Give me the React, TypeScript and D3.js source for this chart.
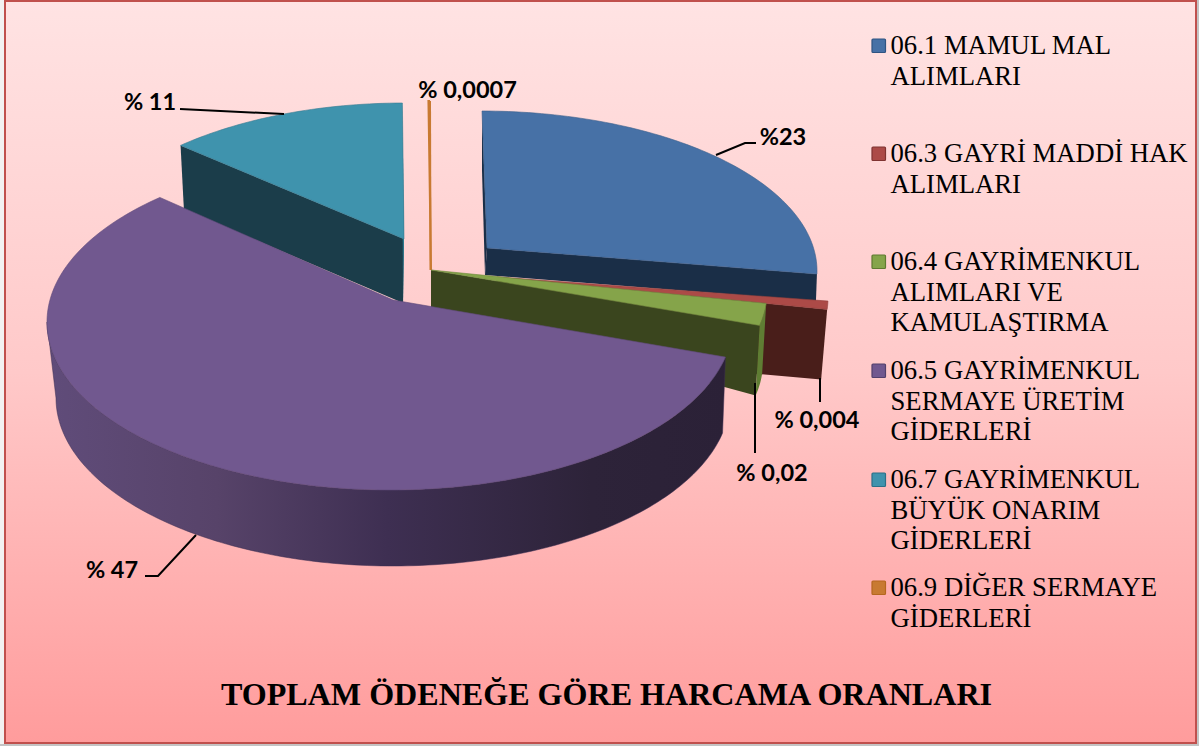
import React from "react";
import * as d3 from "d3";

const categories = ["06.1", "06.3", "06.4", "06.5", "06.7", "06.9"];
const shares = [25.28, 0.83, 2.22, 60.0, 11.64, 0.03];
const pieLabels = ["%23", "% 0,004", "% 0,02", "% 47", "% 11", "% 0,0007"];
const legendLines = [
  ["06.1 MAMUL MAL", "ALIMLARI"],
  ["06.3 GAYRİ MADDİ HAK", "ALIMLARI"],
  ["06.4 GAYRİMENKUL", "ALIMLARI VE", "KAMULAŞTIRMA"],
  ["06.5 GAYRİMENKUL", "SERMAYE ÜRETİM", "GİDERLERİ"],
  ["06.7 GAYRİMENKUL", "BÜYÜK ONARIM", "GİDERLERİ"],
  ["06.9 DİĞER SERMAYE", "GİDERLERİ"],
];
const title = "TOPLAM ÖDENEĞE GÖRE HARCAMA ORANLARI";

const topColors = ["#4771a6", "#ac4a47", "#85a44a", "#71588f", "#3f93ad", "#c87a32"];
const sideColors = ["#1a2e47", "#491e1a", "#3a451e", "#2c2238", "#1b3d4a", "#8a5420"];
const rimColors = ["#1a2e47", "#491e1a", "#5f7d33", "url(#purpleSide)", "#1b3d4a", "#8a5420"];
const legendStroke = ["#2f5482", "#7f3331", "#5f7a30", "#52406c", "#2b7088", "#b5671f"];

// Layout of each exploded slice: top ellipse, bottom ellipse, apex top/bottom
type G = { c: number[]; r: number[]; bc: number[]; br: number[]; a: number[]; ab: number[] };
const geom: G[] = [
  { c: [481, 271], r: [336, 160], bc: [480, 298], br: [336, 160], a: [487, 248], ab: [485, 275] },
  { c: [488, 298], r: [340, 160], bc: [482, 368], br: [340, 160], a: [497, 277], ab: [497, 351] },
  { c: [431, 292], r: [336, 160], bc: [431, 362], br: [332, 160], a: [431, 270], ab: [431, 307] },
  { c: [390, 322], r: [343, 168], bc: [393, 398], br: [337, 168], a: [393, 300], ab: [393, 376] },
  { c: [404, 267], r: [333, 164], bc: [404, 331], br: [328, 164], a: [404, 239], ab: [403, 303] },
  { c: [430, 261], r: [320, 160], bc: [430, 298], br: [320, 160], a: [431, 270], ab: [431, 270] },
];

const labelPos = [
  [783, 137], [817, 420], [772, 473], [112, 570], [150, 102], [467.5, 90],
];
const leaders = [
  [[716, 155], [745, 143], [756, 143]],
  [[820, 378], [820, 402]],
  [[755, 383], [755, 453]],
  [[196, 535], [158, 576], [145, 576]],
  [[284, 114], [180, 109]],
];

const legendY = [46, 154, 262, 371, 480, 588];

const line = d3.line();
const slices = d3.pie<number>().sort(null).startAngle(0.003).endAngle(2 * Math.PI - 0.003)(shares);

const pt = (c: number[], r: number[], t: number): [number, number] => [
  c[0] + r[0] * Math.sin(t),
  c[1] - r[1] * Math.cos(t),
];
const arcPts = (c: number[], r: number[], t0: number, t1: number) => {
  const n = Math.max(2, Math.ceil(Math.abs(t1 - t0) / 0.02));
  return d3.range(n + 1).map((i) => pt(c, r, t0 + ((t1 - t0) * i) / n));
};

const SANS = "Lato, 'Open Sans', sans-serif";
const SERIF = "'Liberation Serif', serif";

function Side({ i, p }: { i: number; p: [number, number][] }) {
  return <path d={line(p) + "Z"} fill={sideColors[i]} />;
}

export default function App() {
  const s = slices;
  const drawSlice = (i: number) => {
    const g = geom[i];
    const t0 = s[i].startAngle;
    const t1 = s[i].endAngle;
    const rim = arcPts(g.c, g.r, t0, t1);
    const brim = arcPts(g.bc, g.br, t0, t1);
    const a = g.a as [number, number];
    const ab = g.ab as [number, number];
    const first = rim[0], last = rim[rim.length - 1];
    const bFirst = brim[0], bLast = brim[brim.length - 1];
    const topPath = line([a, ...rim]) + "Z";
    const els: React.ReactNode[] = [];
    if (i === 0) {
      els.push(<Side key="e" i={i} p={[first, a, ab, [first[0], first[1] + 60]]} />);
      els.push(<Side key="s" i={i} p={[a, last, bLast, ab]} />);
    }
    if (i === 1) els.push(<Side key="s" i={i} p={[a, last, bLast, ab]} />);
    if (i === 2) {
      els.push(<Side key="s" i={i} p={[a, last, bLast, ab]} />);
      els.push(
        <path key="r" d={line([...rim, ...brim.slice().reverse()]) + "Z"} fill={rimColors[i]} />
      );
    }
    if (i === 3) {
      // outer wall only as far as the ellipse's left-most point, so the silhouette is straight there
      const tEnd = Math.min(t1, 1.5 * Math.PI);
      const wall = [...arcPts(g.c, g.r, t0, tEnd), ...arcPts(g.bc, g.br, tEnd, t0)];
      els.push(
        <path key="r" d={line(wall) + "Z"} fill={rimColors[i]} stroke="#3a2c50" strokeWidth={0.5} />
      );
    }
    if (i === 4) {
      els.push(<Side key="s" i={i} p={[first, a, ab, bFirst]} />);
      els.push(<path key="e" d={line([a, last, bLast, ab]) + "Z"} fill="#2c7c90" />);
    }
    els.push(
      <path
        key="t"
        d={topPath}
        fill={topColors[i]}
        stroke={i === 5 ? topColors[i] : d3.color(topColors[i])!.darker(0.5).formatHex()}
        strokeWidth={i === 5 ? 2 : 0.6}
      />
    );
    return <g key={categories[i]}>{els}</g>;
  };

  return (
    <svg
      width={1199}
      height={746}
      viewBox="0 0 1199 746"
      style={{ position: "fixed", left: 0, top: 0, display: "block", background: "#f2f2f2" }}
    >
      <defs>
        <linearGradient id="bg" x1="0" y1="0" x2="0" y2="1">
          <stop offset="0" stopColor="#ffe3e3" />
          <stop offset="0.5" stopColor="#ffc9c9" />
          <stop offset="1" stopColor="#ff9c9c" />
        </linearGradient>
        <linearGradient id="purpleSide" gradientUnits="userSpaceOnUse" x1="47" y1="0" x2="727" y2="0">
          <stop offset="0" stopColor="#604c7a" />
          <stop offset="0.25" stopColor="#574369" />
          <stop offset="0.5" stopColor="#3e2f52" />
          <stop offset="0.8" stopColor="#2d2339" />
          <stop offset="1" stopColor="#2b2137" />
        </linearGradient>
      </defs>
      <rect x={0} y={744} width={1199} height={2} fill="#c4c4c4" />
      <rect x={1197} y={0} width={2} height={746} fill="#c4c4c4" />
      <rect x={5} y={1} width={1191} height={742} fill="url(#bg)" stroke="#c0504d" strokeWidth={2} />

      {[0, 5, 1, 4, 2, 3].map(drawSlice)}

      {leaders.map((l, i) => (
        <path key={i} d={line(l as [number, number][])!} fill="none" stroke="#000" strokeWidth={2} />
      ))}
      <line x1={430} y1={101} x2={430.5} y2={270} stroke={topColors[5]} strokeWidth={2} />

      {pieLabels.map((t, i) => (
        <text
          key={t}
          x={labelPos[i][0]}
          y={labelPos[i][1] + 8}
          textAnchor="middle"
          fontFamily={SANS}
          fontWeight={700}
          fontSize={23.5}
          fill="#000"
        >
          {t}
        </text>
      ))}

      {legendLines.map((lines, i) => (
        <g key={i}>
          <rect
            x={872}
            y={legendY[i] - 7}
            width={13.5}
            height={13.5}
            rx={1}
            fill={topColors[i]}
            stroke={legendStroke[i]}
            strokeWidth={1.2}
          />
          {lines.map((t, j) => (
            <text
              key={j}
              x={890.5}
              y={legendY[i] + 8 + j * 30.6}
              fontFamily={SERIF}
              fontSize={26.7}
              fill="#000"
            >
              {t}
            </text>
          ))}
        </g>
      ))}

      <text
        x={606.5}
        y={705}
        textAnchor="middle"
        fontFamily={SERIF}
        fontWeight={700}
        fontSize={32.1}
        fill="#000"
      >
        {title}
      </text>
    </svg>
  );
}
